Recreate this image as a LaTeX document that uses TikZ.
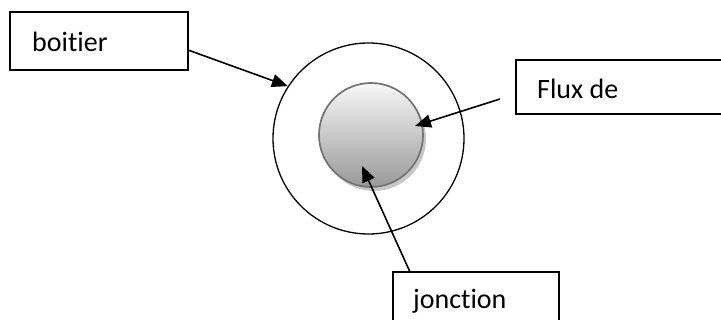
\documentclass[tikz,border=0pt]{standalone}
\usepackage{fontspec}
\setmainfont[Ligatures=NoCommon]{Carlito}
\usetikzlibrary{arrows.meta,shadows}
\begin{document}
\begin{tikzpicture}[x=1pt,y=-1pt,
  labelbox/.style={draw=black,line width=1.4pt,fill=white},
  lbl/.style={anchor=base west,inner sep=0pt,font=\fontsize{28}{33}\selectfont},
  pointer/.style={line width=1.6pt,-{Triangle[length=16pt,width=13pt]}}]
\useasboundingbox (0,0) rectangle (721,320);
\clip (0,0) rectangle (721,320);
\fill[white] (0,0) rectangle (721,320);
% boxes
\draw[labelbox] (10,12) rectangle (188,70);
\node[lbl] (tboitier) at (32,52) {boitier};
\draw[labelbox] (516,60) rectangle (740,114);
\node[lbl] (tflux) at (537,99) {Flux de};
\draw[labelbox] (393,272) rectangle (559,340);
\node[lbl] (tjonction) at (413,309) {jonction};
% circles
\node[circle,draw=black,line width=1.3pt,minimum size=191pt,inner sep=0pt] (outer) at (368.5,138.5) {};
\fill[black!22] (374,139) circle (52pt);
\node[circle,draw=black!55,line width=1.7pt,minimum size=104pt,inner sep=0pt,
  top color=black!3,bottom color=black!40] (inner) at (371,135) {};
% connectors
\coordinate (bstart) at (188,50);
\coordinate (fstart) at (500,99);
\coordinate (ftip) at (415,126);
\coordinate (jstart) at (410,272);
\coordinate (jtip) at (362,166);
\draw[pointer] (bstart) -- (outer.147);
\draw[pointer] (fstart) -- (ftip);
\draw[pointer] (jstart) -- (jtip);
\end{tikzpicture}
\end{document}
